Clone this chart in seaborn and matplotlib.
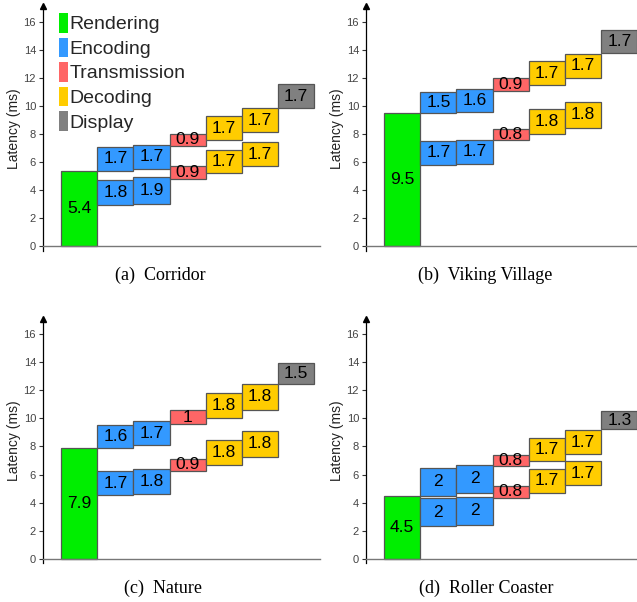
import numpy as np
import pandas as pd
import matplotlib
matplotlib.use("Agg")
import matplotlib.pyplot as plt
from matplotlib.patches import Patch
import seaborn as sns

# ---------------- data ----------------
stage_names = ["Rendering", "Encoding", "Transmission", "Decoding", "Display"]
stage_colors = ["#00EE00", "#3399FF", "#FF6666", "#FFCC00", "#808080"]

panel_titles = ["(a)  Corridor", "(b)  Viking Village", "(c)  Nature", "(d)  Roller Coaster"]

# columns 1..5 of each pipeline row
row_stages = ["Encoding", "Encoding", "Transmission", "Decoding", "Decoding"]
row_positions = [1, 2, 3, 4, 5]

render_ms = [5.4, 9.5, 7.9, 4.5]
display_ms = [1.7, 1.7, 1.5, 1.3]
display_start = [9.86, 13.75, 12.46, 9.21]

corridor_lower_ms = [1.8, 1.9, 0.9, 1.7, 1.7]
corridor_lower_start = [2.92, 3.03, 4.81, 5.19, 5.71]
corridor_upper_ms = [1.7, 1.7, 0.9, 1.7, 1.7]
corridor_upper_start = [5.40, 5.52, 7.13, 7.58, 8.13]

viking_lower_ms = [1.7, 1.7, 0.8, 1.8, 1.8]
viking_lower_start = [5.81, 5.90, 7.58, 7.99, 8.46]
viking_upper_ms = [1.5, 1.6, 0.9, 1.7, 1.7]
viking_upper_start = [9.50, 9.60, 11.09, 11.50, 12.02]

nature_lower_ms = [1.7, 1.8, 0.9, 1.8, 1.8]
nature_lower_start = [4.52, 4.61, 6.23, 6.66, 7.28]
nature_upper_ms = [1.6, 1.7, 1.0, 1.8, 1.8]
nature_upper_start = [7.90, 8.08, 9.60, 10.03, 10.63]

coaster_lower_ms = [2, 2, 0.8, 1.7, 1.7]
coaster_lower_start = [2.31, 2.43, 4.36, 4.71, 5.24]
coaster_upper_ms = [2, 2, 0.8, 1.7, 1.7]
coaster_upper_start = [4.50, 4.69, 6.62, 6.93, 7.45]

lower_ms = [corridor_lower_ms, viking_lower_ms, nature_lower_ms, coaster_lower_ms]
lower_start = [corridor_lower_start, viking_lower_start, nature_lower_start, coaster_lower_start]
upper_ms = [corridor_upper_ms, viking_upper_ms, nature_upper_ms, coaster_upper_ms]
upper_start = [corridor_upper_start, viking_upper_start, nature_upper_start, coaster_upper_start]

yticks = [0, 2, 4, 6, 8, 10, 12, 14, 16]

# ---------------- style ----------------
sns.set_style("white")
plt.rcParams["font.family"] = ["Liberation Sans", "DejaVu Sans"]

color_of = dict(zip(stage_names, stage_colors))
EDGE = "#555555"
LW = 0.9

fig = plt.figure(figsize=(6.37, 6.02), dpi=100)
W, H = 637.0, 602.0

axes_px = [  # left, top(px of axes top), width, height
    (43, 6.4, 277, 244.1),
    (366, 6.4, 271, 244.1),
    (43, 318.8, 277, 244.1),
    (366, 318.8, 271, 244.1),
]
xlims = [(-1.0, 6.66), (-1.0, 6.49), (-1.0, 6.66), (-1.0, 6.49)]
caption_pos = [(160, 275), (485, 275), (163, 588), (486, 588)]


def draw_bars(ax, positions, values, starts, color):
    df = pd.DataFrame({"pos": positions, "ms": values})
    sns.barplot(data=df, x="pos", y="ms", native_scale=True, width=1.0,
                color=color, saturation=1, bottom=np.asarray(starts, float),
                edgecolor=EDGE, linewidth=LW, errorbar=None, ax=ax)
    for p, v, s in zip(positions, values, starts):
        ax.text(p, s + v / 2.0, f"{v:g}", ha="center", va="center",
                fontsize=12.5, color="black")


for i in range(4):
    l, t, w, h = axes_px[i]
    ax = fig.add_axes([l / W, (H - t - h) / H, w / W, h / H])

    # rendering
    draw_bars(ax, [0], [render_ms[i]], [0.0], color_of["Rendering"])
    # two pipeline rows
    for vals, starts in ((lower_ms[i], lower_start[i]), (upper_ms[i], upper_start[i])):
        for st in ["Encoding", "Transmission", "Decoding"]:
            idx = [k for k, s in enumerate(row_stages) if s == st]
            draw_bars(ax, [row_positions[k] for k in idx], [vals[k] for k in idx],
                      [starts[k] for k in idx], color_of[st])
    # display
    draw_bars(ax, [6], [display_ms[i]], [display_start[i]], color_of["Display"])

    ax.set_xlim(*xlims[i])
    ax.set_ylim(-0.3, 17.1)
    ax.set_yticks(yticks)
    ax.set_xticks([])
    ax.set_xlabel("")
    ax.set_ylabel("Latency (ms)", fontsize=10, color="#222222", labelpad=2)
    ax.tick_params(axis="y", labelsize=8, labelcolor="#444444", length=3,
                   width=0.8, color="#333333", direction="out", pad=2, left=True)
    for sp in ["top", "right"]:
        ax.spines[sp].set_visible(False)
    ax.spines["left"].set_color("black")
    ax.spines["left"].set_linewidth(0.9)
    ax.spines["bottom"].set_position(("data", 0))
    ax.spines["bottom"].set_color("#777777")
    ax.spines["bottom"].set_linewidth(1.0)
    ax.plot([0], [1], marker="^", markersize=4, color="black",
            transform=ax.transAxes, clip_on=False)

    if i == 0:
        handles = [Patch(facecolor=c, edgecolor="none") for c in stage_colors]
        ax.legend(handles, stage_names, loc="upper left",
                  bbox_to_anchor=(0.056, 0.972), frameon=False, fontsize=14,
                  handlelength=0.48, handleheight=1.15, handletextpad=0.1,
                  labelspacing=0.22, borderpad=0, borderaxespad=0)

    cx, cy = caption_pos[i]
    fig.text(cx / W, (H - cy) / H, panel_titles[i], ha="center", va="center",
             fontsize=13, family=["Liberation Serif", "DejaVu Serif"], color="black")

fig.savefig("out.png", dpi=100)
